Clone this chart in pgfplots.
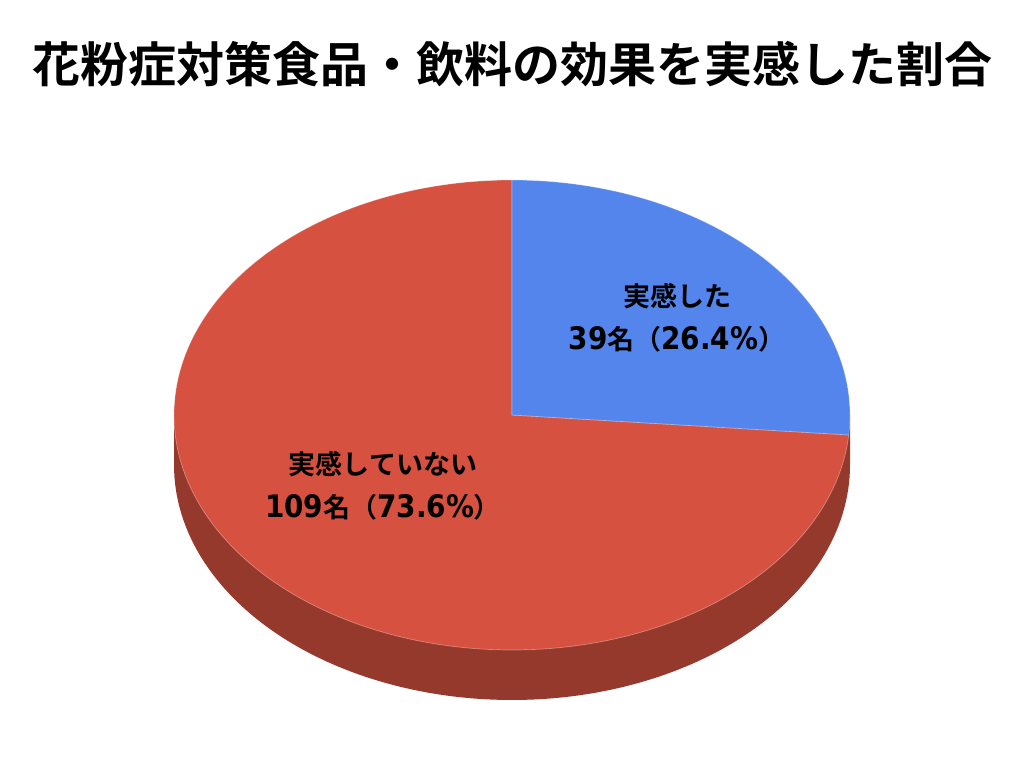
\documentclass[border=0pt]{standalone}
\usepackage{pgfplots}
\pgfplotsset{compat=1.18}
\usepackage{fontspec}
\setmainfont{Noto Sans CJK JP}
\newfontfamily\jpbold{Noto Sans CJK JP Bold}
\newfontfamily\lat{DejaVu Sans Condensed Bold}

\definecolor{sliceblue}{HTML}{5385EC}
\definecolor{slicered}{HTML}{D75140}
\definecolor{sidered}{HTML}{96392D}

% respondents
\def\yes{39}
\def\no{109}

\newcommand\lbl[3]{#1\\%
  {\lat\fontsize{31}{43}\selectfont #2}名（%
  {\lat\fontsize{31}{43}\selectfont #3\%}）}

\begin{document}
\begin{tikzpicture}
\pgfmathsetmacro\split{90-360*\yes/(\yes+\no)}
\pgfmathsetmacro\stop{360+\split}
\fill[white] (0,0) rectangle (1024pt,768pt);
\begin{axis}[
  at={(0,0)}, anchor=south west,
  width=1024pt, height=768pt, scale only axis,
  xmin=0, xmax=1024, ymin=0, ymax=768, y dir=reverse,
  hide axis, clip=false,
]
% side of the disc
\addplot[fill=sidered, draw=none, domain=180:360, samples=120, variable=\t]
  ({512+338*cos(t)}, {465-235*sin(t)}) -- (850,415) -- (174,415) -- cycle;
% top face
\addplot[fill=slicered, draw=white, draw opacity=0.35, line width=0.7pt,
  domain=90:\stop, samples=200, variable=\t]
  ({512+338*cos(t)}, {415-235*sin(t)}) -- (512,415) -- cycle;
\addplot[fill=sliceblue, draw=white, draw opacity=0.35, line width=0.7pt,
  domain=\split:90, samples=80, variable=\t]
  ({512+338*cos(t)}, {415-235*sin(t)}) -- (512,415) -- cycle;

\node[font=\jpbold\fontsize{48}{50}\selectfont] at (512,64)
  {花粉症対策食品・飲料の効果を実感した割合};
\node[align=center, font=\jpbold\fontsize{27}{43}\selectfont] at (677,318)
  {\lbl{実感した}{39}{26.4}};
\node[align=center, font=\jpbold\fontsize{27}{43}\selectfont] at (383,486)
  {\lbl{実感していない}{109}{73.6}};
\end{axis}
\end{tikzpicture}
\end{document}
